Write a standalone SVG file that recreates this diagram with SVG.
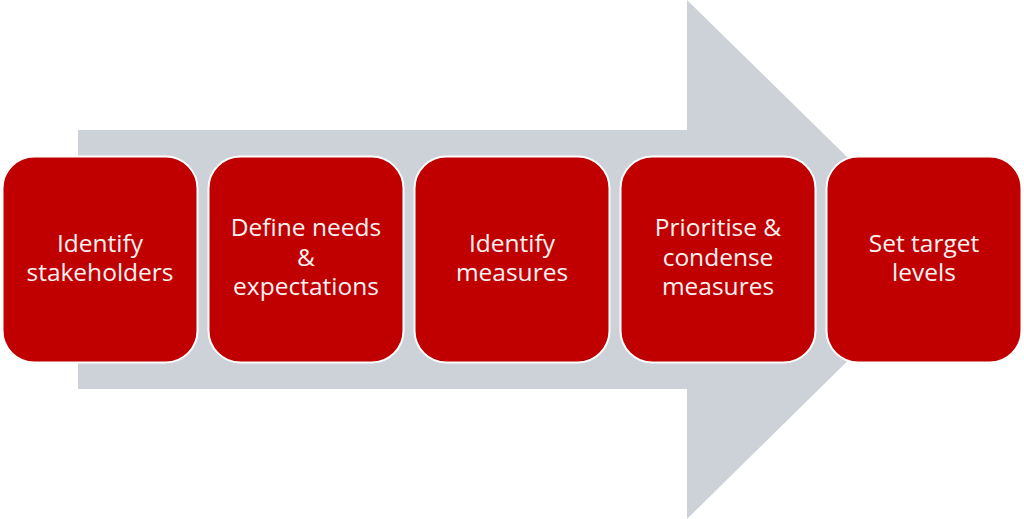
<svg xmlns="http://www.w3.org/2000/svg" width="1024" height="519" viewBox="0 0 1024 519">
<style>
.box{fill:#c00000;stroke:#ffffff;stroke-width:2}
.lbl{font-family:"Open Sans","Liberation Sans",sans-serif;font-size:24.5px;fill:#fdf2f2;text-anchor:middle}
</style>
<rect width="1024" height="519" fill="#ffffff"/>
<g id="connectors">
<path d="M78,130 H687 V0 L951,259 L687,519 V389 H78 Z" fill="#cdd2d9"/>
</g>
<g id="n1"><rect class="box" x="2.5" y="156.5" width="195" height="206" rx="32"/><text class="lbl" x="100" y="252">Identify</text><text class="lbl" x="100" y="281">stakeholders</text></g>
<g id="n2"><rect class="box" x="208.5" y="156.5" width="195" height="206" rx="32"/><text class="lbl" x="306" y="236">Define needs</text><text class="lbl" x="306" y="266">&amp;</text><text class="lbl" x="306" y="295">expectations</text></g>
<g id="n3"><rect class="box" x="414.5" y="156.5" width="195" height="206" rx="32"/><text class="lbl" x="512" y="252">Identify</text><text class="lbl" x="512" y="281">measures</text></g>
<g id="n4"><rect class="box" x="620.5" y="156.5" width="195" height="206" rx="32"/><text class="lbl" x="718" y="236">Prioritise &amp;</text><text class="lbl" x="718" y="266">condense</text><text class="lbl" x="718" y="295">measures</text></g>
<g id="n5"><rect class="box" x="826.5" y="156.5" width="195" height="206" rx="32"/><text class="lbl" x="924" y="252">Set target</text><text class="lbl" x="924" y="281">levels</text></g>
</svg>
